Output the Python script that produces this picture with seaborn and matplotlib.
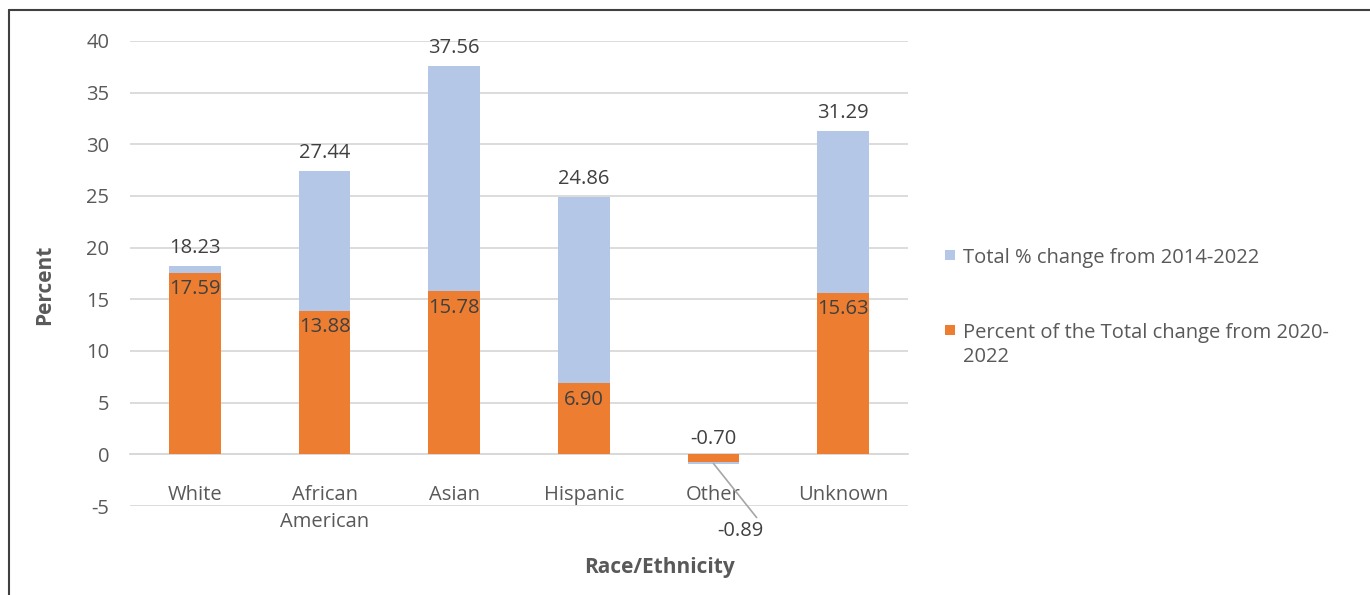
import matplotlib
matplotlib.use("Agg")
import matplotlib.pyplot as plt
from matplotlib.patches import Rectangle
from matplotlib.lines import Line2D
import seaborn as sns
import pandas as pd

categories = ["White", "African\nAmerican", "Asian", "Hispanic", "Other", "Unknown"]
total_change_2014_2022 = [18.23, 27.44, 37.56, 24.86, -0.89, 31.29]
share_change_2020_2022 = [17.59, 13.88, 15.78, 6.90, -0.70, 15.63]
y_ticks = [-5, 0, 5, 10, 15, 20, 25, 30, 35, 40]

series_total = "Total % change from 2014-2022"
series_share = "Percent of the Total change from 2020-\n2022"

BLUE = "#B4C7E7"
ORANGE = "#ED7D31"
TEXT = "#595959"
LABEL = "#404040"
GRID = "#D9D9D9"
FS = 14.5

sns.set_theme(style="white")
plt.rcParams["font.family"] = ["Open Sans", "DejaVu Sans"]
plt.rcParams["axes.unicode_minus"] = False

df = pd.DataFrame({
    "category": categories,
    "total": total_change_2014_2022,
    "share": share_change_2020_2022,
})

W, H = 1370, 595
fig = plt.figure(figsize=(W / 100, H / 100), dpi=100)
ax = fig.add_axes([130 / W, 1 - 506 / H, 778 / W, 465 / H])

# Total change sits behind, the 2020-2022 share overlaps it in front
sns.barplot(data=df, x="category", y="total", color=BLUE, width=0.4,
            saturation=1, linewidth=0, ax=ax, zorder=2)
sns.barplot(data=df, x="category", y="share", color=ORANGE, width=0.4,
            saturation=1, linewidth=0, ax=ax, zorder=3)

ax.set_ylim(-5, 40)
ax.set_xlim(-0.5, len(categories) - 0.5)
ax.set_yticks(y_ticks)
ax.yaxis.grid(True, color=GRID, linewidth=1.3, zorder=0)
ax.set_axisbelow(True)
for s in ["top", "right", "left"]:
    ax.spines[s].set_visible(False)
ax.spines["bottom"].set_position(("data", 0))
ax.spines["bottom"].set_color(GRID)
ax.spines["bottom"].set_linewidth(1.3)
ax.tick_params(axis="y", length=0, pad=15, labelsize=FS, labelcolor=TEXT)
ax.tick_params(axis="x", length=0, pad=22, labelsize=FS, labelcolor=TEXT)
ax.set_xlabel("")
ax.set_ylabel("")
for lbl in ax.get_xticklabels():
    lbl.set_verticalalignment("top")
    lbl.set_linespacing(1.5)

# Value labels
for i, (tot, sh) in enumerate(zip(total_change_2014_2022, share_change_2020_2022)):
    if tot >= 0:
        ax.text(i, tot + 1.75, f"{tot:.2f}", ha="center", va="center",
                fontsize=FS, color=LABEL, zorder=5)
    else:
        ax.annotate(f"{tot:.2f}", xy=(i, tot), xytext=(i + 0.21, -7.4),
                    ha="center", va="center", fontsize=FS, color=LABEL,
                    arrowprops=dict(arrowstyle="-", color="#A6A6A6", lw=1.2,
                                    relpos=(0.9, 1.0), shrinkA=0, shrinkB=0),
                    zorder=5)
    if sh >= 0:
        ax.text(i, sh - 1.6, f"{sh:.2f}", ha="center", va="center",
                fontsize=FS, color=LABEL, zorder=5)
    else:
        ax.text(i, 1.5, f"{sh:.2f}", ha="center", va="center",
                fontsize=FS, color=LABEL, zorder=5)

# Axis titles
fig.text(45 / W, 1 - 285 / H, "Percent", rotation=90, ha="center",
         va="center", fontsize=15, fontweight="bold", color=TEXT)
fig.text(660 / W, 1 - 567 / H, "Race/Ethnicity", ha="center",
         va="center", fontsize=15, fontweight="bold", color=TEXT)

# Legend
for y_px, color, text in [(255, BLUE, series_total), (330, ORANGE, series_share)]:
    fig.patches.append(Rectangle((945 / W, 1 - (y_px + 5) / H),
                                 10 / W, 10 / H, transform=fig.transFigure,
                                 facecolor=color, edgecolor="none"))
    fig.text(963 / W, 1 - (y_px - 7) / H, text, ha="left", va="top",
             fontsize=FS, color=TEXT, linespacing=1.3)

# Chart frame (top and left edges)
fig.add_artist(Line2D([9 / W, 1], [1 - 10 / H, 1 - 10 / H],
                      transform=fig.transFigure, color="#404040", lw=1.5))
fig.add_artist(Line2D([9 / W, 9 / W], [0, 1 - 10 / H],
                      transform=fig.transFigure, color="#404040", lw=1.5))

fig.savefig("out.png", dpi=100)
